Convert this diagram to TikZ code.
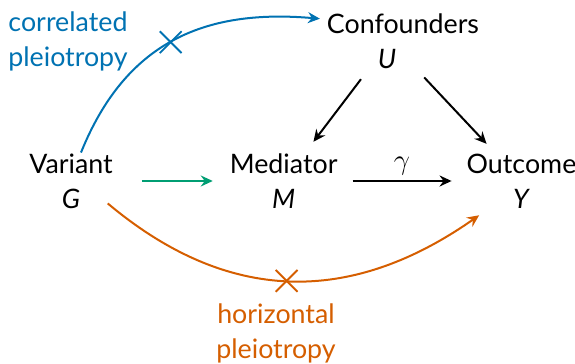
\documentclass[tikz,border=0pt]{standalone}
\usepackage{fontspec}
\setmainfont{Lato}
\usepackage{xcolor}
\definecolor{okblue}{RGB}{0, 114, 178}
\definecolor{okorange}{RGB}{213, 94, 0}
\definecolor{okgreen}{RGB}{0, 158, 115}
\usepackage{tikz}
\usetikzlibrary{positioning,arrows.meta,shapes.misc}

\begin{document}
\begin{tikzpicture}[
        x=0.5pt, y=0.5pt,
        lbl/.style={align=center, font=\fontsize{13.4}{17.5}\selectfont},
        arr/.style={-{Stealth[length=6pt, width=5.5pt, inset=2pt]}, line width=1pt},
        xmark/.style={cross out, draw, line width=0.9pt, minimum size=10pt, inner sep=0pt}
    ]
    \useasboundingbox (0,0) rectangle (575,364);
    \node[lbl] (G) at (71,183) {Variant\\\textit{G}};
    \node[lbl, right=51.5pt of G] (M) {Mediator\\\textit{M}};
    \node[lbl, right=57.5pt of M] (Y) {Outcome\\\textit{Y}};
    \node[lbl] (U) at (403,323) {Confounders\\\hspace*{-16pt}\textit{U}};
    \coordinate (Uc) at ([xshift=-6.5pt]U.center);
    \node[lbl, okblue] (corr) at (68,323) {correlated\\pleiotropy};
    \node[lbl, okorange] (horiz) at (276,31) {horizontal\\pleiotropy};
    \draw[arr, okgreen, shorten <=11pt, shorten >=5pt] (G) -- (M);
    \draw[arr, shorten <=4pt, shorten >=4pt] (M) -- node[lbl, above=-1pt] (gam) {$\gamma$} (Y);
    \draw[arr, shorten <=24pt, shorten >=3pt] (Uc) -- (M);
    \draw[arr, shorten <=25pt, shorten >=2pt] (Uc) -- (Y);
    % pleiotropy paths
    \draw[arr, okblue] ([shift={(5pt,-3pt)}]G.north) to[out=68, in=175, looseness=1.1] node[xmark, pos=0.49] (xc) {} (U.165);
    \draw[arr, okorange] ([shift={(-6pt,6pt)}]G.south east) to[out=-40, in=-145, looseness=1.08] node[xmark, pos=0.49] (xh) {} (Y.-141);
\end{tikzpicture}
\end{document}
